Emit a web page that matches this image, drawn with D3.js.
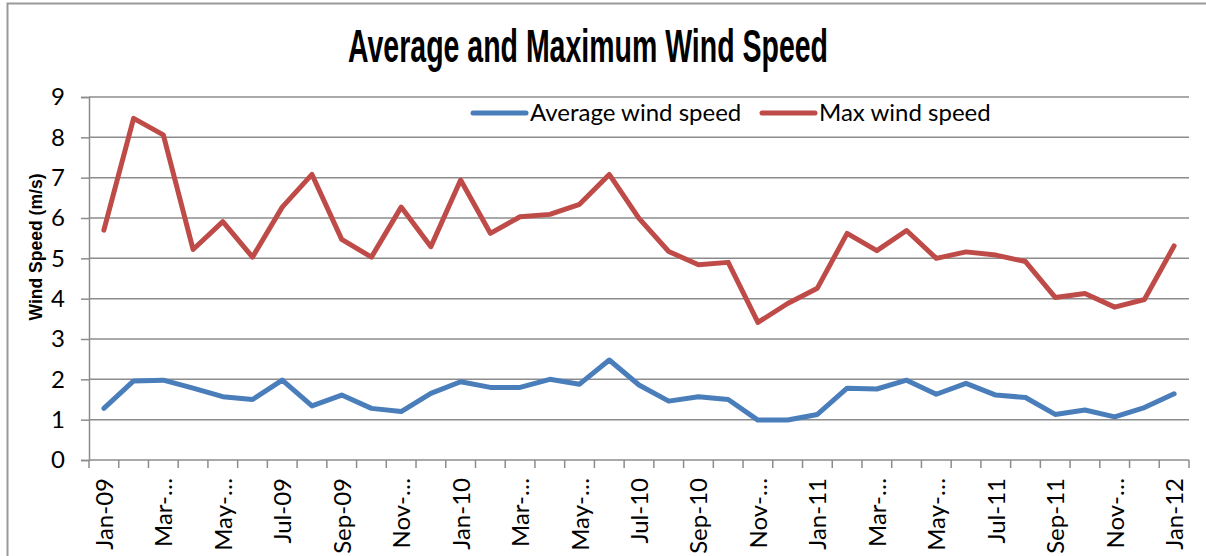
<!DOCTYPE html>
<html>
<head>
<meta charset="utf-8">
<script src="https://cdn.jsdelivr.net/npm/d3@7"></script>
<style>
  body { margin: 0; background: #fff; }
  svg { display: block; }
</style>
</head>
<body>
<svg></svg>
<script>
const months = ["Jan-09","Feb-09","Mar-09","Apr-09","May-09","Jun-09","Jul-09","Aug-09","Sep-09","Oct-09","Nov-09","Dec-09",
      "Jan-10","Feb-10","Mar-10","Apr-10","May-10","Jun-10","Jul-10","Aug-10","Sep-10","Oct-10","Nov-10","Dec-10",
      "Jan-11","Feb-11","Mar-11","Apr-11","May-11","Jun-11","Jul-11","Aug-11","Sep-11","Oct-11","Nov-11","Dec-11",
      "Jan-12"]

// labels as Excel shows them (long ones cut off)
const tickLabels = {
      "Jan-09": "Jan-09", "Mar-09": "Mar-…", "May-09": "May-…", "Jul-09": "Jul-09", "Sep-09": "Sep-09", "Nov-09": "Nov-…",
      "Jan-10": "Jan-10", "Mar-10": "Mar-…", "May-10": "May-…", "Jul-10": "Jul-10", "Sep-10": "Sep-10", "Nov-10": "Nov-…",
      "Jan-11": "Jan-11", "Mar-11": "Mar-…", "May-11": "May-…", "Jul-11": "Jul-11", "Sep-11": "Sep-11", "Nov-11": "Nov-…",
      "Jan-12": "Jan-12"}

const avgSpeed = [1.28, 1.96, 1.98, 1.78, 1.57, 1.50, 1.98, 1.34, 1.61, 1.28, 1.20, 1.65,
      1.94, 1.80, 1.80, 2.00, 1.88, 2.48, 1.86, 1.46, 1.57, 1.50, 0.99, 0.99,
      1.13, 1.78, 1.76, 1.98, 1.63, 1.90, 1.61, 1.55, 1.13, 1.24, 1.07, 1.30,
      1.64]

const maxSpeed = [5.70, 8.47, 8.06, 5.22, 5.91, 5.03, 6.27, 7.08, 5.47, 5.03, 6.27, 5.29,
      6.94, 5.62, 6.03, 6.09, 6.34, 7.08, 5.99, 5.17, 4.84, 4.90, 3.41, 3.88,
      4.26, 5.62, 5.19, 5.69, 5.00, 5.16, 5.08, 4.92, 4.03, 4.13, 3.79, 3.98,
      5.31]

const yTicks = [0, 1, 2, 3, 4, 5, 6, 7, 8, 9]

const series = [
      { name: "Average wind speed", values: avgSpeed, color: "#4A7EBB" },
      { name: "Max wind speed", values: maxSpeed, color: "#BE4B48" }]

const width = 1206
const height = 556
const plotLeft = 89, plotRight = 1189, plotTop = 97, plotBottom = 460

const svg = d3.select("svg")
      .attr("width", width)
      .attr("height", height)

// chart border
svg.append("path")
      .attr("d", `M7.5,${height} V3.5 H${width}`)
      .attr("fill", "none")
      .attr("stroke", "#999")
      .attr("stroke-width", 2)

const x = d3.scaleBand()
      .domain(months)
      .range([plotLeft, plotRight])

const y = d3.scaleLinear()
      .domain([0, 9])
      .range([plotBottom, plotTop])

// gridlines
svg.append("g")
      .selectAll("line")
      .data(yTicks.filter(d => d > 0))
      .join("line")
      .attr("x1", plotLeft)
      .attr("x2", plotRight)
      .attr("y1", d => y(d))
      .attr("y2", d => y(d))
      .attr("stroke", "#8c8c8c")
      .attr("stroke-width", 1.5)

// y axis
const yAxis = svg.append("g")
      .attr("transform", `translate(${plotLeft},0)`)
      .call(d3.axisLeft(y).tickValues(yTicks).tickSize(8).tickPadding(16))
yAxis.select(".domain").attr("stroke", "#8c8c8c").attr("stroke-width", 1.5)
yAxis.selectAll(".tick line").attr("stroke", "#8c8c8c").attr("stroke-width", 1.5)
yAxis.selectAll(".tick text")
      .attr("font-family", "Lato, sans-serif")
      .attr("font-size", 24)
      .attr("fill", "#000")

// x axis: a tick at each category boundary
const xAxis = svg.append("g")
      .attr("transform", `translate(0,${plotBottom})`)
xAxis.append("line")
      .attr("x1", plotLeft).attr("x2", plotRight)
      .attr("stroke", "#8c8c8c").attr("stroke-width", 1.5)
xAxis.selectAll(".bound")
      .data(months.concat(["end"]))
      .join("line")
      .attr("class", "bound")
      .attr("x1", (d, i) => plotLeft + i * x.step())
      .attr("x2", (d, i) => plotLeft + i * x.step())
      .attr("y1", 0)
      .attr("y2", 8)
      .attr("stroke", "#8c8c8c")
      .attr("stroke-width", 1.5)
xAxis.selectAll("text")
      .data(months.filter(m => tickLabels[m]))
      .join("text")
      .attr("transform", d => `translate(${x(d) + x.bandwidth() / 2 + 9},${18}) rotate(-90)`)
      .attr("text-anchor", "end")
      .attr("font-family", "Lato, sans-serif")
      .attr("font-size", 24)
      .text(d => tickLabels[d])

// lines
const line = d3.line()
      .x((d, i) => x(months[i]) + x.bandwidth() / 2)
      .y(d => y(d))

svg.append("g")
      .selectAll("path")
      .data(series)
      .join("path")
      .attr("d", d => line(d.values))
      .attr("fill", "none")
      .attr("stroke", d => d.color)
      .attr("stroke-width", 5)
      .attr("stroke-linejoin", "round")
      .attr("stroke-linecap", "round")

// title (narrow font squeezed to fit)
svg.append("text")
      .attr("x", 588)
      .attr("y", 62)
      .attr("text-anchor", "middle")
      .attr("font-family", "'Liberation Sans', Arial, sans-serif")
      .attr("font-weight", "bold")
      .attr("font-size", 46)
      .attr("textLength", 480)
      .attr("lengthAdjust", "spacingAndGlyphs")
      .text("Average and Maximum Wind Speed")

// y label
svg.append("text")
      .attr("transform", "translate(42,247) rotate(-90)")
      .attr("text-anchor", "middle")
      .attr("font-family", "'Liberation Sans', Arial, sans-serif")
      .attr("font-weight", "bold")
      .attr("font-size", 19)
      .attr("textLength", 147)
      .attr("lengthAdjust", "spacingAndGlyphs")
      .text("Wind Speed (m/s)")

// legend
const legendX = [471, 760]
const legend = svg.append("g")
      .selectAll("g")
      .data(series)
      .join("g")
      .attr("transform", (d, i) => `translate(${legendX[i]},113)`)
legend.append("line")
      .attr("x1", 2).attr("x2", 55)
      .attr("stroke", d => d.color)
      .attr("stroke-width", 5)
      .attr("stroke-linecap", "round")
legend.append("text")
      .attr("x", 59)
      .attr("y", 8)
      .attr("font-family", "Lato, sans-serif")
      .attr("font-size", 24)
      .text(d => d.name)
</script>
</body>
</html>
